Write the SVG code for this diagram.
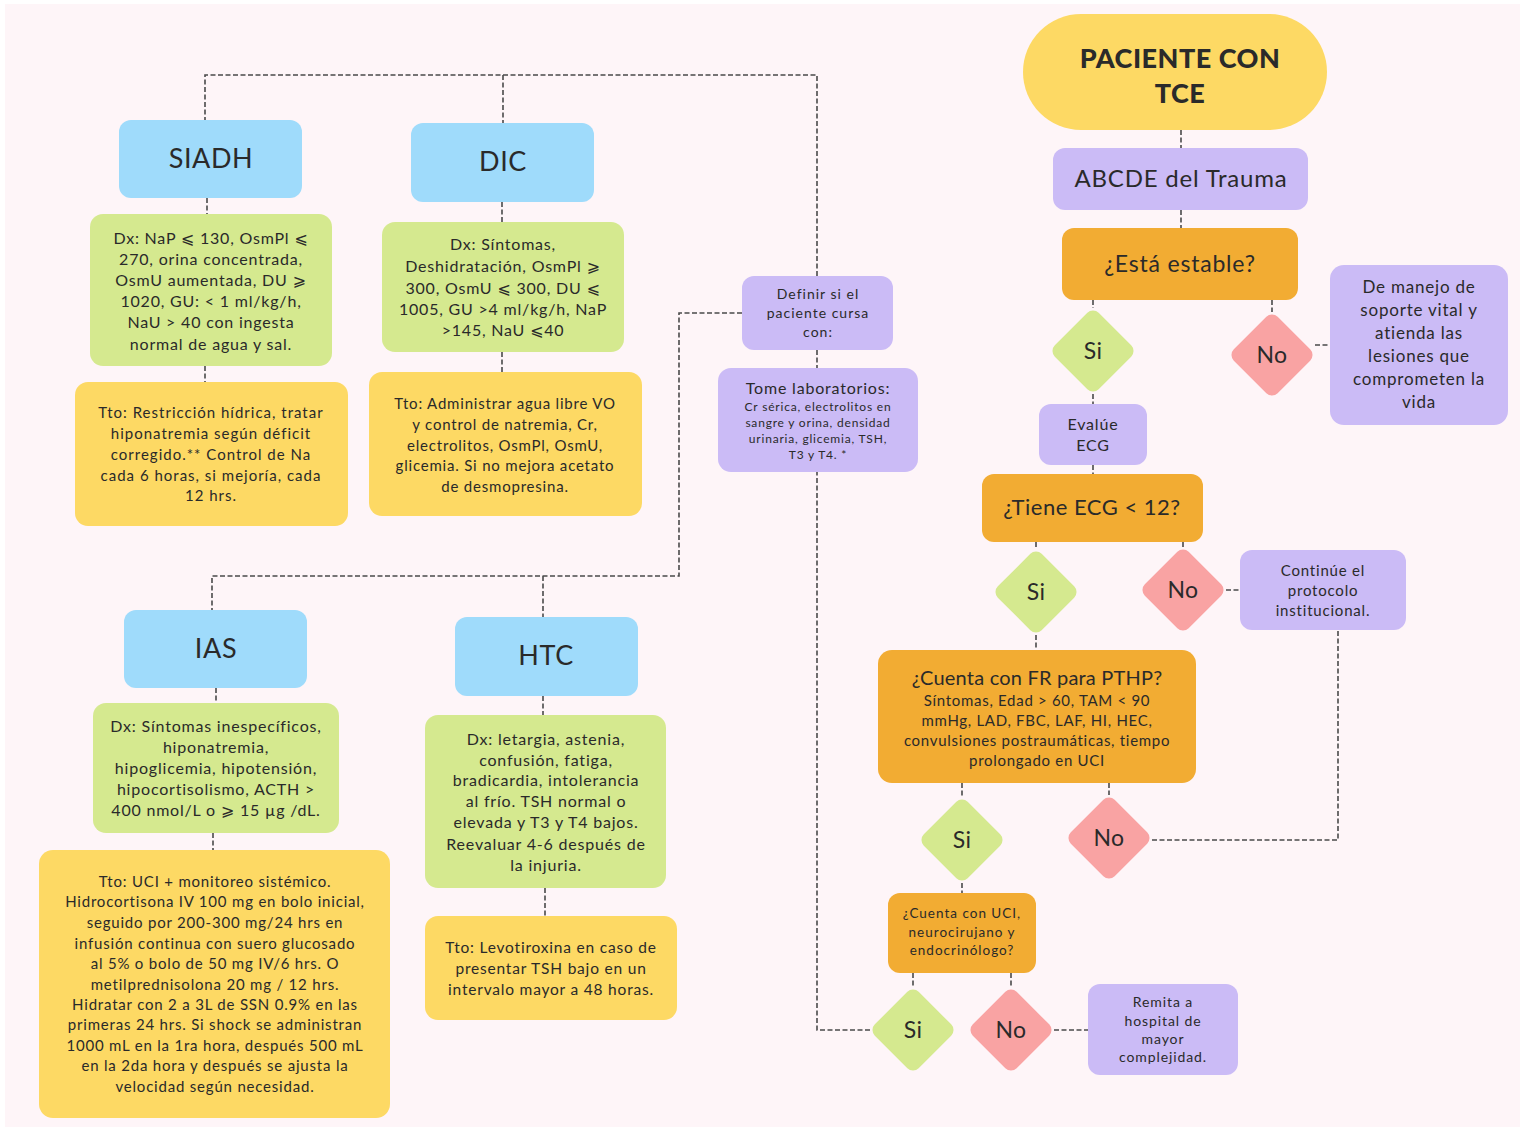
<svg xmlns="http://www.w3.org/2000/svg" width="1526" height="1130" viewBox="0 0 1526 1130">
<style>
.t{font-family:Lato,"Open Sans","DejaVu Sans",sans-serif;fill:#2a2a2a;text-anchor:middle;letter-spacing:0.8px}
.blue{fill:#9fdbfb}.green{fill:#d5e98f}.yellow{fill:#fdd964}.orange{fill:#f2ac33}.purple{fill:#cbbbf6}.pink{fill:#f9a3a3}
.c{fill:none;stroke:#4a4a4a;stroke-width:1.6;stroke-dasharray:5 2.5}
.h{font-size:27px;letter-spacing:0.6px}
.dx{font-size:16px}
.tt{font-size:15px}
.dm{font-size:23px;letter-spacing:0.3px}
</style>
<rect width="1526" height="1130" fill="#ffffff"/>
<rect x="5" y="4" width="1515" height="1123" fill="#fef5f8"/>
<g id="connectors">
<path class="c" d="M1181 130V148M1181 210V228M1093 300V308M1272 300V312M1315 345H1330M1093 394V404M1093 465V474M1036 542V549M1183 542V547M1226 590H1240"/>
<path class="c" d="M1152 840H1338V630"/>
<path class="c" d="M1036 635V650M962 783V797M1109 783V795M962 883V893M913 973V987M1011 973V987M1054 1030H1088"/>
<path class="c" d="M870 1030H817V472M817 350V368"/>
<path class="c" d="M817 276V75H205V120M503 75V123"/>
<path class="c" d="M742 313H679V576H212V610M543 576V617"/>
<path class="c" d="M207 198V214M205 366V382M502 202V222M502 352V372M216 688V703M213 833V850M543 696V715M545 888V916"/>
</g>
<g id="paciente">
<rect class="yellow" x="1023" y="14" width="304" height="116" rx="58"/>
<text class="t" x="1180" y="68" font-size="27" font-weight="900" fill="#111" style="letter-spacing:0.5px">PACIENTE CON</text>
<text class="t" x="1180" y="103" font-size="27" font-weight="900" fill="#111" style="letter-spacing:0.5px">TCE</text>
</g>
<g id="abcde">
<rect class="purple" x="1053" y="148" width="255" height="62" rx="12"/>
<text class="t" x="1181" y="187" font-size="24">ABCDE del Trauma</text>
</g>
<g id="estable">
<rect class="orange" x="1062" y="228" width="236" height="72" rx="12"/>
<text class="t" x="1180" y="272" font-size="23">¿Está estable?</text>
</g>
<g id="si1"><rect class="green" x="-31" y="-31" width="62" height="62" rx="8" transform="translate(1093 351) rotate(45)"/><text class="t dm" x="1093" y="359">Si</text></g>
<g id="no1"><rect class="pink" x="-31" y="-31" width="62" height="62" rx="8" transform="translate(1272 355) rotate(45)"/><text class="t dm" x="1272" y="363">No</text></g>
<g id="soporte">
<rect class="purple" x="1330" y="265" width="178" height="160" rx="14"/>
<text class="t" font-size="17"><tspan x="1419" y="293">De manejo de</tspan><tspan x="1419" y="316">soporte vital y</tspan><tspan x="1419" y="339">atienda las</tspan><tspan x="1419" y="362">lesiones que</tspan><tspan x="1419" y="385">comprometen la</tspan><tspan x="1419" y="408">vida</tspan></text>
</g>
<g id="evalue">
<rect class="purple" x="1039" y="404" width="108" height="61" rx="12"/>
<text class="t" font-size="16"><tspan x="1093" y="430">Evalúe</tspan><tspan x="1093" y="451">ECG</tspan></text>
</g>
<g id="ecg">
<rect class="orange" x="982" y="474" width="221" height="68" rx="12"/>
<text class="t" x="1092" y="515" font-size="22" style="letter-spacing:0.5px">¿Tiene ECG &lt; 12?</text>
</g>
<g id="si2"><rect class="green" x="-31" y="-31" width="62" height="62" rx="8" transform="translate(1036 592) rotate(45)"/><text class="t dm" x="1036" y="600">Si</text></g>
<g id="no2"><rect class="pink" x="-31" y="-31" width="62" height="62" rx="8" transform="translate(1183 590) rotate(45)"/><text class="t dm" x="1183" y="598">No</text></g>
<g id="continue">
<rect class="purple" x="1240" y="550" width="166" height="80" rx="12"/>
<text class="t" font-size="15"><tspan x="1323" y="576">Continúe el</tspan><tspan x="1323" y="596">protocolo</tspan><tspan x="1323" y="616">institucional.</tspan></text>
</g>
<g id="pthp">
<rect class="orange" x="878" y="650" width="318" height="133" rx="14"/>
<text class="t" x="1037" y="685" font-size="20" style="letter-spacing:0.2px">¿Cuenta con FR para PTHP?</text>
<text class="t" font-size="15" style="letter-spacing:0.7px"><tspan x="1037" y="706">Síntomas, Edad &gt; 60, TAM &lt; 90</tspan><tspan x="1037" y="726">mmHg, LAD, FBC, LAF, HI, HEC,</tspan><tspan x="1037" y="746">convulsiones postraumáticas, tiempo</tspan><tspan x="1037" y="766">prolongado en UCI</tspan></text>
</g>
<g id="si3"><rect class="green" x="-31" y="-31" width="62" height="62" rx="8" transform="translate(962 840) rotate(45)"/><text class="t dm" x="962" y="848">Si</text></g>
<g id="no3"><rect class="pink" x="-31" y="-31" width="62" height="62" rx="8" transform="translate(1109 838) rotate(45)"/><text class="t dm" x="1109" y="846">No</text></g>
<g id="uci">
<rect class="orange" x="888" y="893" width="148" height="80" rx="12"/>
<text class="t" font-size="13.5" style="letter-spacing:1px"><tspan x="962" y="918">¿Cuenta con UCI,</tspan><tspan x="962" y="937">neurocirujano y</tspan><tspan x="962" y="955">endocrinólogo?</tspan></text>
</g>
<g id="si4"><rect class="green" x="-31" y="-31" width="62" height="62" rx="8" transform="translate(913 1030) rotate(45)"/><text class="t dm" x="913" y="1038">Si</text></g>
<g id="no4"><rect class="pink" x="-31" y="-31" width="62" height="62" rx="8" transform="translate(1011 1030) rotate(45)"/><text class="t dm" x="1011" y="1038">No</text></g>
<g id="remita">
<rect class="purple" x="1088" y="984" width="150" height="91" rx="12"/>
<text class="t" font-size="14" style="letter-spacing:0.9px"><tspan x="1163" y="1007">Remita a</tspan><tspan x="1163" y="1026">hospital de</tspan><tspan x="1163" y="1044">mayor</tspan><tspan x="1163" y="1062">complejidad.</tspan></text>
</g>
<g id="definir">
<rect class="purple" x="742" y="276" width="151" height="74" rx="12"/>
<text class="t" font-size="14" style="letter-spacing:1px"><tspan x="818" y="299">Definir si el</tspan><tspan x="818" y="318">paciente cursa</tspan><tspan x="818" y="337">con:</tspan></text>
</g>
<g id="laboratorios">
<rect class="purple" x="718" y="368" width="200" height="104" rx="13"/>
<text class="t" x="818" y="394" font-size="16">Tome laboratorios:</text>
<text class="t" font-size="12" style="letter-spacing:0.8px"><tspan x="818" y="411">Cr sérica, electrolitos en</tspan><tspan x="818" y="427">sangre y orina, densidad</tspan><tspan x="818" y="443">urinaria, glicemia, TSH,</tspan><tspan x="818" y="459">T3 y T4. *</tspan></text>
</g>
<g id="siadh">
<rect class="blue" x="119" y="120" width="183" height="78" rx="12"/>
<text class="t h" x="211" y="168">SIADH</text>
</g>
<g id="siadh-dx">
<rect class="green" x="90" y="214" width="242" height="152" rx="13"/>
<text class="t dx"><tspan x="211" y="244">Dx: NaP ⩽ 130, OsmPl ⩽</tspan><tspan x="211" y="265">270, orina concentrada,</tspan><tspan x="211" y="286">OsmU aumentada, DU ⩾</tspan><tspan x="211" y="307">1020, GU: &lt; 1 ml/kg/h,</tspan><tspan x="211" y="328">NaU &gt; 40 con ingesta</tspan><tspan x="211" y="350">normal de agua y sal.</tspan></text>
</g>
<g id="siadh-tto">
<rect class="yellow" x="75" y="382" width="273" height="144" rx="13"/>
<text class="t tt" style="letter-spacing:1px"><tspan x="211" y="418">Tto: Restricción hídrica, tratar</tspan><tspan x="211" y="439">hiponatremia según déficit</tspan><tspan x="211" y="460">corregido.** Control de Na</tspan><tspan x="211" y="481">cada 6 horas, si mejoría, cada</tspan><tspan x="211" y="501">12 hrs.</tspan></text>
</g>
<g id="dic">
<rect class="blue" x="411" y="123" width="183" height="79" rx="12"/>
<text class="t h" x="503" y="171">DIC</text>
</g>
<g id="dic-dx">
<rect class="green" x="382" y="222" width="242" height="130" rx="13"/>
<text class="t dx"><tspan x="503" y="250">Dx: Síntomas,</tspan><tspan x="503" y="272">Deshidratación, OsmPl ⩾</tspan><tspan x="503" y="294">300, OsmU ⩽ 300, DU ⩽</tspan><tspan x="503" y="315">1005, GU &gt;4 ml/kg/h, NaP</tspan><tspan x="503" y="336">&gt;145, NaU ⩽40</tspan></text>
</g>
<g id="dic-tto">
<rect class="yellow" x="369" y="372" width="273" height="144" rx="13"/>
<text class="t tt"><tspan x="505" y="409">Tto: Administrar agua libre VO</tspan><tspan x="505" y="430">y control de natremia, Cr,</tspan><tspan x="505" y="451">electrolitos, OsmPl, OsmU,</tspan><tspan x="505" y="471">glicemia. Si no mejora acetato</tspan><tspan x="505" y="492">de desmopresina.</tspan></text>
</g>
<g id="ias">
<rect class="blue" x="124" y="610" width="183" height="78" rx="12"/>
<text class="t h" x="216" y="658">IAS</text>
</g>
<g id="ias-dx">
<rect class="green" x="93" y="703" width="246" height="130" rx="13"/>
<text class="t dx"><tspan x="216" y="732">Dx: Síntomas inespecíficos,</tspan><tspan x="216" y="753">hiponatremia,</tspan><tspan x="216" y="774">hipoglicemia, hipotensión,</tspan><tspan x="216" y="795">hipocortisolismo, ACTH &gt;</tspan><tspan x="216" y="816">400 nmol/L o ⩾ 15 µg /dL.</tspan></text>
</g>
<g id="ias-tto">
<rect class="yellow" x="39" y="850" width="351" height="268" rx="14"/>
<text class="t tt"><tspan x="215" y="887">Tto: UCI + monitoreo sistémico.</tspan><tspan x="215" y="907">Hidrocortisona IV 100 mg en bolo inicial,</tspan><tspan x="215" y="928">seguido por 200-300 mg/24 hrs en</tspan><tspan x="215" y="949">infusión continua con suero glucosado</tspan><tspan x="215" y="969">al 5% o bolo de 50 mg IV/6 hrs. O</tspan><tspan x="215" y="990">metilprednisolona 20 mg / 12 hrs.</tspan><tspan x="215" y="1010">Hidratar con 2 a 3L de SSN 0.9% en las</tspan><tspan x="215" y="1030">primeras 24 hrs. Si shock se administran</tspan><tspan x="215" y="1051">1000 mL en la 1ra hora, después 500 mL</tspan><tspan x="215" y="1071">en la 2da hora y después se ajusta la</tspan><tspan x="215" y="1092">velocidad según necesidad.</tspan></text>
</g>
<g id="htc">
<rect class="blue" x="455" y="617" width="183" height="79" rx="12"/>
<text class="t h" x="546" y="665">HTC</text>
</g>
<g id="htc-dx">
<rect class="green" x="425" y="715" width="241" height="173" rx="13"/>
<text class="t dx"><tspan x="546" y="745">Dx: letargia, astenia,</tspan><tspan x="546" y="766">confusión, fatiga,</tspan><tspan x="546" y="786">bradicardia, intolerancia</tspan><tspan x="546" y="807">al frío. TSH normal o</tspan><tspan x="546" y="828">elevada y T3 y T4 bajos.</tspan><tspan x="546" y="850">Reevaluar 4-6 después de</tspan><tspan x="546" y="871">la injuria.</tspan></text>
</g>
<g id="htc-tto">
<rect class="yellow" x="425" y="916" width="252" height="104" rx="13"/>
<text class="t" font-size="15.5"><tspan x="551" y="953">Tto: Levotiroxina en caso de</tspan><tspan x="551" y="974">presentar TSH bajo en un</tspan><tspan x="551" y="995">intervalo mayor a 48 horas.</tspan></text>
</g>
</svg>
